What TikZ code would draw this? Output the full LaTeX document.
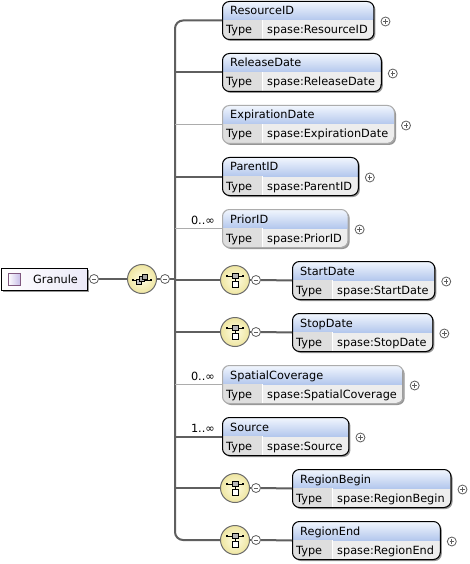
\documentclass[tikz,border=0pt]{standalone}
\usepackage{fontspec}
\setmainfont{DejaVu Sans}
\usetikzlibrary{calc}

\newlength\elw
\newsavebox\measbox
\newcommand\lblfont{\fontsize{11.3}{13}\selectfont}

\definecolor{hdtop}{RGB}{243,247,254}
\definecolor{hdbot}{RGB}{180,200,237}
\definecolor{typecol}{RGB}{222,222,222}
\definecolor{valcol}{RGB}{237,237,237}
\definecolor{shadowcol}{RGB}{150,150,150}
\definecolor{linecol}{RGB}{95,95,95}
\definecolor{optcol}{RGB}{172,172,172}
\definecolor{seqin}{RGB}{255,253,228}
\definecolor{seqout}{RGB}{238,229,160}
\definecolor{lavender}{RGB}{200,190,232}
\definecolor{granfill}{RGB}{236,234,248}

\tikzset{
  conn/.style={draw=linecol, line width=2pt},
  optconn/.style={draw=optcol, line width=1pt},
  lbl/.style={font=\lblfont, inner sep=0pt, text=black},
  elembox/.style={draw=black, line width=1pt, rounded corners=7pt, inner sep=0pt},
  optbox/.style={draw=optcol},
  sign/.style={circle, draw=linecol, fill=white, line width=0.8pt, minimum size=9pt, inner sep=0pt},
  plussign/.style={sign, path picture={
      \draw[line width=0.8pt] ([xshift=-2.2pt]path picture bounding box.center) -- ([xshift=2.2pt]path picture bounding box.center)
                               ([yshift=-2.2pt]path picture bounding box.center) -- ([yshift=2.2pt]path picture bounding box.center);}},
  minussign/.style={sign, path picture={
      \draw[line width=0.8pt] ([xshift=-2.2pt]path picture bounding box.center) -- ([xshift=2.2pt]path picture bounding box.center);}},
  compo/.style={circle, draw=gray!85!black, line width=1pt, inner color=seqin, outer color=seqout, minimum size=29pt, inner sep=0pt},
  mult/.style={font=\lblfont, inner sep=0pt, anchor=base east},
  iconline/.style={line width=0.8pt, draw=black},
}

% element box: [extra border style]{name}{left}{top}{element name}
\newcommand\xsdelem[5][]{%
  \pgfinterruptpicture\global\sbox\measbox{\lblfont spase:#5}\endpgfinterruptpicture
  \setlength\elw{\wd\measbox}%
  \pgfmathsetmacro\boxw{\elw+51}%
  \fill[shadowcol, rounded corners=7pt] (#3+2,#4+2) rectangle ++(\boxw,38);
  \begin{scope}
    \clip[rounded corners=7pt] (#3,#4) rectangle ++(\boxw,38);
    \fill[valcol] (#3,#4) rectangle ++(\boxw,38);
    \shade[top color=hdtop, bottom color=hdbot] (#3,#4) rectangle ++(\boxw,19);
    \fill[typecol] (#3,#4+19) rectangle ++(40,19);
    \draw[white, line width=1pt] (#3+40,#4+19) -- ++(0,19);
  \end{scope}
  \node[elembox, #1, minimum width=\boxw pt, minimum height=38pt, anchor=north west] (#2) at (#3,#4) {};
  \node[lbl, anchor=base west] (#2-title) at (#3+8,#4+14) {#5};
  \node[lbl, anchor=base west] (#2-tk) at (#3+4,#4+33) {Type};
  \node[lbl, anchor=base west] (#2-tv) at (#3+45,#4+33) {spase:#5};
  \node[plussign] (#2-plus) at ($(#2.east)+(11,1)$) {};
}

% single-item compositor glyph drawn inside a node
\newcommand\choiceicon[1]{%
  \begin{scope}[shift={(#1.center)}]
    \draw[iconline] (-8,-4) -- (8,-4);
    \fill (-8.8,-4.8) rectangle (-7.2,-3.2);
    \fill (7.2,-4.8) rectangle (8.8,-3.2);
    \draw[iconline, fill=gray!55] (-3,-6.5) rectangle (3,-1.5);
    \draw[iconline] (0,-1.5) -- (0,1);
    \draw[iconline, fill=white] (-3,1) rectangle (3,7);
  \end{scope}
}

% sequence glyph drawn inside a node
\newcommand\seqicon[1]{%
  \begin{scope}[shift={(#1.center)}]
    \draw[iconline] (-9,1) -- (9,1);
    \fill (-9.8,0.2) rectangle (-8.2,1.8);
    \fill (8.2,0.2) rectangle (9.8,1.8);
    \draw[iconline, fill=gray!50] (-6,0) rectangle (-1,5);
    \draw[iconline, fill=gray!60] (-3,-2.5) rectangle (2,2.5);
    \draw[iconline, fill=gray!70] (0,-5) rectangle (5,0);
  \end{scope}
}

\begin{document}
\begin{tikzpicture}[x=1pt, y=-1pt]
  \useasboundingbox (0,0) rectangle (469,564);
  \fill[white] (0,0) rectangle (469,564);

  % root element
  \fill[shadowcol] (3,270) rectangle (89,292);
  \node[draw=black, line width=1pt, left color=white, right color=granfill,
        minimum width=86pt, minimum height=22pt, inner sep=0pt] (granule) at (44,279) {};
  \draw[draw=gray!70!violet, line width=0.8pt, left color=white, right color=lavender] (8,273) rectangle (20,285);
  \node[lbl, anchor=base west] (granule-name) at (33,283) {Granule};
  \node[minussign] (gm) at (94,279) {};
  \node[compo] (seq) at (142,279) {};
  \seqicon{seq}
  \node[minussign] (seqm) at (165,279) {};
  \coordinate (spine) at (175,279);
  \draw[conn, line width=1.2pt] (granule.east) -- (gm.west);
  \draw[conn] (gm.east) -- (seq.west);
  \draw[conn, line width=1.2pt] (seq.east) -- (seqm.west);
  \draw[conn] (seqm.east) -- (spine);

  % children
  \xsdelem{resid}{222}{1}{ResourceID}
  \xsdelem{reldate}{222}{53}{ReleaseDate}
  \xsdelem[optbox]{expdate}{222}{105}{ExpirationDate}
  \xsdelem{parent}{222}{157}{ParentID}
  \xsdelem[optbox]{prior}{222}{209}{PriorID}
  \xsdelem{start}{292}{261}{StartDate}
  \xsdelem{stop}{292}{313}{StopDate}
  \xsdelem[optbox]{spatial}{222}{365}{SpatialCoverage}
  \xsdelem{source}{222}{417}{Source}
  \xsdelem{rbegin}{292}{469}{RegionBegin}
  \xsdelem{rend}{292}{521}{RegionEnd}

  % compositors in front of the wrapped elements
  \node[compo] (cstart) at (235,280) {};
  \node[compo] (cstop) at (235,332) {};
  \node[compo] (crbegin) at (235,488) {};
  \node[compo] (crend) at (235,540) {};
  \foreach \c in {cstart,cstop,crbegin,crend} {
    \choiceicon{\c}
  }
  \node[minussign] (cstart-m) at (256,280) {};
  \node[minussign] (cstop-m) at (256,332) {};
  \node[minussign] (crbegin-m) at (256,488) {};
  \node[minussign] (crend-m) at (256,540) {};
  \draw[conn] (cstart-m.east) -- (start.west);
  \draw[conn] (cstop-m.east) -- (stop.west);
  \draw[conn] (crbegin-m.east) -- (rbegin.west);
  \draw[conn] (crend-m.east) -- (rend.west);
  \draw[conn, line width=1.2pt] (cstart.east) -- (cstart-m.west);
  \draw[conn, line width=1.2pt] (cstop.east) -- (cstop-m.west);
  \draw[conn, line width=1.2pt] (crbegin.east) -- (crbegin-m.west);
  \draw[conn, line width=1.2pt] (crend.east) -- (crend-m.west);

  % spine and branches
  \draw[conn, rounded corners=8pt] (resid.west) -| (spine) |- (crend.west);
  \draw[conn] (spine |- reldate.west) -- (reldate.west);
  \draw[optconn] (spine |- expdate.west) -- (expdate.west);
  \draw[conn] (spine |- parent.west) -- (parent.west);
  \draw[optconn] (spine |- prior.west) -- (prior.west);
  \draw[conn] (spine |- cstart.west) -- (cstart.west);
  \draw[conn] (spine |- cstop.west) -- (cstop.west);
  \draw[optconn] (spine |- spatial.west) -- (spatial.west);
  \draw[conn] (spine |- source.west) -- (source.west);
  \draw[conn] (spine |- crbegin.west) -- (crbegin.west);

  % occurrence labels
  \node[mult] (prior-occ) at (215,224) {0..∞};
  \node[mult] (spatial-occ) at (215,380) {0..∞};
  \node[mult] (source-occ) at (215,432) {1..∞};
\end{tikzpicture}
\end{document}
